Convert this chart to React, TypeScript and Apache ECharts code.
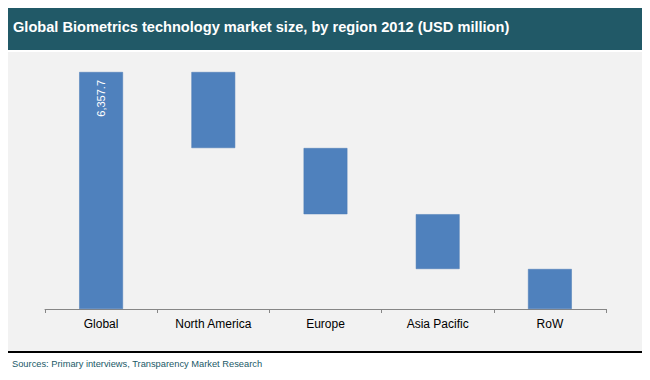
import React, { useEffect, useRef } from "react";
import * as echarts from "echarts";

const categories = ["Global", "North America", "Europe", "Asia Pacific", "RoW"];
const totalValue = 6357.7;
const regionValues = [2040, 1775, 1470, 1072.7];
const titleText = "Global Biometrics technology market size, by region 2012 (USD million)";
const sourceText = "Sources: Primary interviews, Transparency Market Research";

export default function App() {
  const ref = useRef<HTMLDivElement>(null);
  useEffect(() => {
    if (!ref.current) return;
    const chart = echarts.init(ref.current, null, { renderer: "svg" });
    const bases: number[] = [0];
    let remaining = totalValue;
    regionValues.forEach((v) => {
      remaining -= v;
      bases.push(Math.max(0, remaining));
    });
    const heights = [totalValue, ...regionValues];
    const font = "'Liberation Sans', Arial, sans-serif";
    chart.setOption({
      animation: false,
      backgroundColor: "#ffffff",
      graphic: [
        { type: "rect", z: -10, shape: { x: 8, y: 8, width: 634, height: 42 }, style: { fill: "#215967" } },
        { type: "rect", z: -10, shape: { x: 8, y: 52, width: 634, height: 299 }, style: { fill: "#f2f2f2" } },
        { type: "line", z: -9, shape: { x1: 8, y1: 352, x2: 642, y2: 352 }, style: { stroke: "#000000", lineWidth: 2 } },
        {
          type: "text",
          left: 12,
          top: 359,
          style: { text: sourceText, fill: "#215967", font: `9.3px ${font}` },
        },
      ],
      title: {
        text: titleText,
        left: 8,
        top: 14,
        textStyle: { color: "#ffffff", fontSize: 14.6, fontWeight: "bold", fontFamily: font },
      },
      grid: { left: 45, right: 44, top: 72, bottom: 71 },
      xAxis: {
        type: "category",
        data: categories,
        axisLine: { lineStyle: { color: "#868686", width: 1 } },
        axisTick: { show: true, length: 4, lineStyle: { color: "#868686" } },
        axisLabel: { color: "#000000", fontSize: 12, fontFamily: font, margin: 9 },
      },
      yAxis: {
        type: "value",
        min: 0,
        max: totalValue,
        show: false,
        splitLine: { show: false },
      },
      series: [
        {
          type: "bar",
          stack: "w",
          silent: true,
          itemStyle: { color: "transparent" },
          data: bases,
          barWidth: "39%",
        },
        {
          type: "bar",
          stack: "w",
          barWidth: "39%",
          itemStyle: { color: "#4f81bd", borderColor: "#4a7ab4", borderWidth: 0.5 },
          data: heights.map((v, i) =>
            i === 0
              ? {
                  value: v,
                  label: {
                    show: true,
                    position: "insideTop",
                    rotate: 90,
                    align: "right",
                    verticalAlign: "middle",
                    distance: 8,
                    color: "#ffffff",
                    fontSize: 11,
                    fontFamily: font,
                    formatter: () => v.toLocaleString("en-US", { minimumFractionDigits: 1, maximumFractionDigits: 1 }),
                  },
                }
              : v
          ),
        },
      ],
    });
    return () => chart.dispose();
  }, []);
  return (
    <div
      ref={ref}
      style={{ position: "fixed", left: 0, top: 0, width: 650, height: 380, background: "#fff" }}
    />
  );
}
